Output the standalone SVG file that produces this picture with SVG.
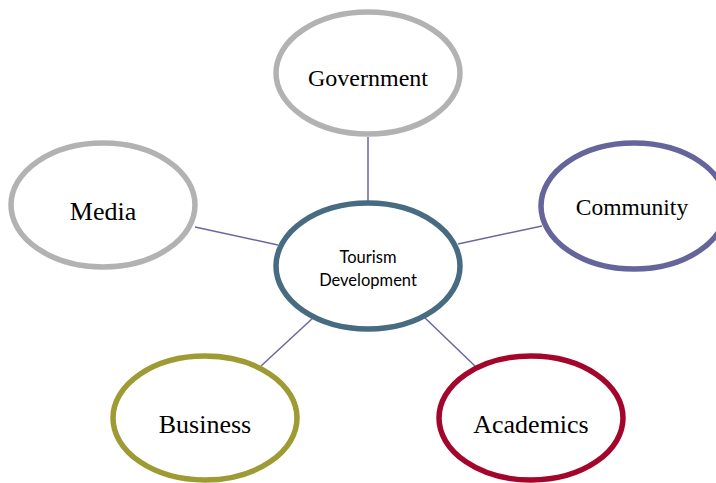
<svg xmlns="http://www.w3.org/2000/svg" width="716" height="483" viewBox="0 0 716 483">
<style>
.n{fill:#fff;stroke-width:5.5}
.t{font-family:"Liberation Serif","Times New Roman",serif;fill:#000;text-anchor:middle}
.c{font-family:Lato,"Liberation Sans",sans-serif;font-size:16.5px;fill:#000;text-anchor:middle}
.e{stroke:#6a67a0;stroke-width:1.5;fill:none}
</style>
<rect width="716" height="483" fill="#fff"/>
<g id="connectors">
<line class="e" x1="368" y1="137" x2="368" y2="201"/>
<line class="e" x1="195" y1="227" x2="278" y2="245"/>
<line class="e" x1="458" y1="244" x2="542" y2="226"/>
<line class="e" x1="261" y1="366" x2="314" y2="317"/>
<line class="e" x1="424" y1="317" x2="476" y2="367"/>
</g>
<g id="government">
<ellipse class="n" cx="368" cy="73" rx="92" ry="61" stroke="#b2b2b2"/>
<text class="t" x="368" y="86" font-size="24">Government</text>
</g>
<g id="tourism">
<ellipse class="n" cx="368" cy="266" rx="92" ry="63" stroke="#476b80"/>
<text class="c" x="368" y="263">Tourism</text>
<text class="c" x="368" y="286">Development</text>
</g>
<g id="community">
<ellipse class="n" cx="634" cy="206" rx="93" ry="63" stroke="#66659b"/>
<text class="t" x="632" y="215" font-size="23.5">Community</text>
</g>
<g id="media">
<ellipse class="n" cx="103" cy="205" rx="92" ry="62" stroke="#b2b2b2"/>
<text class="t" x="103" y="220" font-size="26">Media</text>
</g>
<g id="business">
<ellipse class="n" cx="205" cy="418" rx="92" ry="62" stroke="#9e9b34"/>
<text class="t" x="205" y="433" font-size="26">Business</text>
</g>
<g id="academics">
<ellipse class="n" cx="531" cy="418" rx="92" ry="62" stroke="#a4052a"/>
<text class="t" x="531" y="433" font-size="26">Academics</text>
</g>
</svg>
